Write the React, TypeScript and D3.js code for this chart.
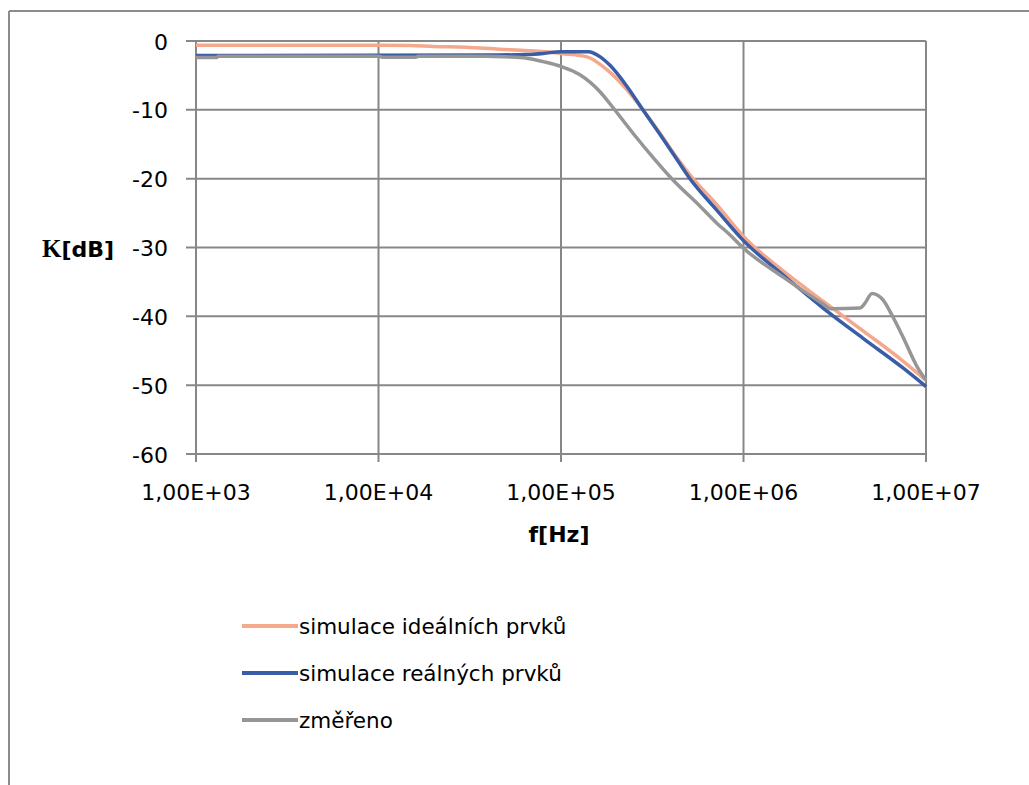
import React from "react";
import * as d3 from "d3";

// ---- data ----
const xTickValues = [1e3, 1e4, 1e5, 1e6, 1e7];
const xTickLabels = ["1,00E+03", "1,00E+04", "1,00E+05", "1,00E+06", "1,00E+07"];
const yTickValues = [0, -10, -20, -30, -40, -50, -60];
const yTickLabels = ["0", "-10", "-20", "-30", "-40", "-50", "-60"];

const seriesNames = ["simulace ideálních prvků", "simulace reálných prvků", "změřeno"];
const seriesColors = ["#F4A88C", "#3A5DA8", "#969696"];

const idealF = [1e3, 1e4, 1.5e4, 2e4, 3e4, 4.6e4, 6e4, 8.7e4, 1e5, 1.39e5, 1.79e5, 2.3e5, 2.81e5, 3.49e5, 4.22e5, 5.29e5, 7.16e5, 1e6, 1.65e6, 2.73e6, 4.52e6, 7.48e6, 1e7];
const idealK = [-0.6, -0.6, -0.65, -0.8, -0.9, -1.2, -1.35, -1.6, -1.8, -2.3, -4.2, -7.1, -10.0, -13.4, -16.6, -20.0, -23.8, -28.4, -33.4, -37.8, -42.1, -46.5, -49.3];

const realF = [1e3, 3.9e4, 6.5e4, 8e4, 1e5, 1.41e5, 1.64e5, 1.85e5, 2.3e5, 2.81e5, 3.49e5, 4.22e5, 5.09e5, 7.16e5, 1e6, 1.65e6, 2.73e6, 4.52e6, 7.48e6, 1e7];
const realK = [-2.1, -2.05, -1.95, -1.8, -1.55, -1.55, -2.3, -3.5, -6.6, -10.0, -13.6, -16.8, -20.0, -24.6, -29.0, -34.0, -38.8, -43.2, -47.5, -50.2];

const measF = [1e3, 1.3e3, 1.32e3, 1e4, 1.05e4, 1.6e4, 1.65e4, 3.9e4, 5e4, 6.5e4, 8e4, 1e5, 1.27e5, 1.64e5, 1.93e5, 2.48e5, 3.19e5, 4.11e5, 5.78e5, 7.16e5, 8.3e5, 1e6, 1.65e6, 2.73e6, 3.0e6, 4.35e6, 4.6e6, 5.06e6, 5.4e6, 5.81e6, 6.59e6, 7.48e6, 8.93e6, 1e7];
const measK = [-2.4, -2.4, -2.2, -2.2, -2.35, -2.35, -2.2, -2.2, -2.3, -2.5, -3.0, -3.7, -4.9, -7.4, -9.7, -13.4, -16.9, -20.2, -24.0, -26.5, -28.0, -30.1, -34.3, -38.2, -38.9, -38.8, -38.2, -36.7, -36.9, -37.6, -40.1, -43.0, -47.3, -49.3];

const seriesF = [idealF, realF, measF];
const seriesK = [idealK, realK, measK];

// ---- layout ----
const W = 1029;
const H = 785;
const plotLeft = 196;
const plotRight = 926;
const plotTop = 41;
const plotBottom = 454;
const gridColor = "#878787";
const font = "'DejaVu Sans', Verdana, sans-serif";

export default function App() {
  const x = d3.scaleLog().domain([1e3, 1e7]).range([plotLeft, plotRight]);
  const y = d3.scaleLinear().domain([-60, 0]).range([plotBottom, plotTop]);

  const line = d3
    .line<[number, number]>()
    .x((d) => x(d[0]))
    .y((d) => y(d[1]))
    .curve(d3.curveMonotoneX);

  const legendY = [626, 673, 720];

  return (
    <svg
      width={W}
      height={H}
      style={{ position: "absolute", left: 0, top: 0, background: "#fff" }}
    >
      <rect x={0} y={0} width={W} height={H} fill="#fff" />
      {/* outer chart border */}
      <line x1={9} y1={11} x2={W} y2={11} stroke="#8c8c8c" strokeWidth={2} />
      <line x1={9} y1={11} x2={9} y2={H} stroke="#8c8c8c" strokeWidth={2} />

      {/* horizontal gridlines + y ticks */}
      {yTickValues.map((v, i) => (
        <g key={"y" + i}>
          <line x1={plotLeft - 10} x2={plotRight} y1={y(v)} y2={y(v)} stroke={gridColor} strokeWidth={2} />
          <text x={168} y={y(v) + 8.5} textAnchor="end" fontFamily={font} fontSize={22} fill="#000">
            {yTickLabels[i]}
          </text>
        </g>
      ))}

      {/* vertical gridlines + x ticks */}
      {xTickValues.map((v, i) => (
        <g key={"x" + i}>
          <line x1={x(v)} x2={x(v)} y1={plotTop} y2={plotBottom + 8} stroke={gridColor} strokeWidth={2} />
          <text x={x(v)} y={plotBottom + 46} textAnchor="middle" fontFamily={font} fontSize={22} fill="#000">
            {xTickLabels[i]}
          </text>
        </g>
      ))}

      {/* series */}
      {seriesF.map((fs, si) => {
        const pts: [number, number][] = fs.map((f, j) => [f, seriesK[si][j]]);
        return (
          <path
            key={"s" + si}
            d={line(pts) || ""}
            fill="none"
            stroke={seriesColors[si]}
            strokeWidth={3.5}
            strokeLinejoin="round"
          />
        );
      })}

      {/* axis titles */}
      <text x={559} y={542} textAnchor="middle" fontFamily={font} fontSize={22} fontWeight="bold" fill="#000">
        f[Hz]
      </text>
      <text x={42} y={257} fill="#000">
        <tspan fontFamily="'Liberation Serif', 'DejaVu Serif', serif" fontWeight="bold" fontSize={25}>K</tspan>
        <tspan fontFamily={font} fontWeight="bold" fontSize={22}>[dB]</tspan>
      </text>

      {/* legend */}
      {seriesNames.map((n, i) => (
        <g key={"l" + i}>
          <line x1={242} x2={298} y1={legendY[i]} y2={legendY[i]} stroke={seriesColors[i]} strokeWidth={4} />
          <text x={299} y={legendY[i] + 8} fontFamily={font} fontSize={21.5} fill="#000">
            {n}
          </text>
        </g>
      ))}
    </svg>
  );
}
